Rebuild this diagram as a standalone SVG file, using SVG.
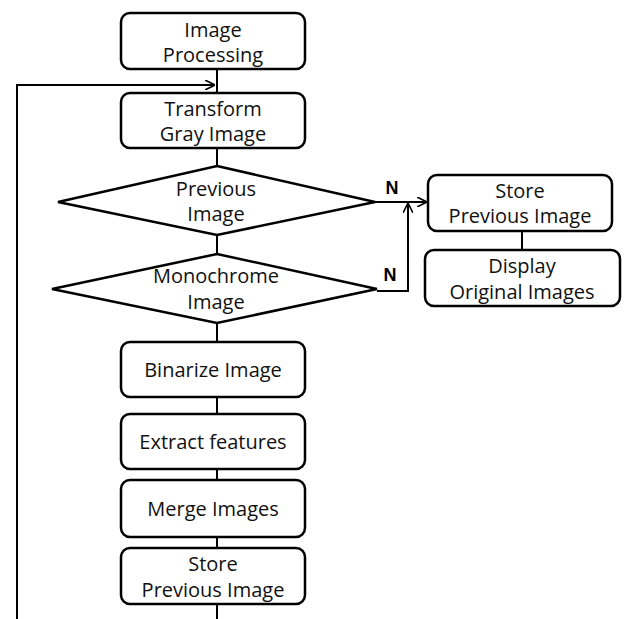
<svg xmlns="http://www.w3.org/2000/svg" width="624" height="619" viewBox="0 0 624 619">
<defs>
<style>
.box{fill:#fff;stroke:#000;stroke-width:2.5}
.ln{fill:none;stroke:#000;stroke-width:2}
.t{font-family:"Open Sans","Noto Sans",sans-serif;font-size:20px;fill:#111;text-anchor:middle}
.n{font-family:"Liberation Sans",Arial,sans-serif;font-size:18px;font-weight:bold;fill:#000;text-anchor:middle}
</style>
<marker id="ah" viewBox="0 0 10 10" refX="10" refY="5" markerWidth="10" markerHeight="10" markerUnits="userSpaceOnUse" orient="auto">
<path d="M0,0 L10,5 L0,10" fill="none" stroke="#000" stroke-width="1.6"/>
</marker>
</defs>
<rect width="624" height="619" fill="#fff"/>
<g id="connectors">
<line class="ln" x1="217" y1="69" x2="217" y2="93"/>
<polyline class="ln" points="17,619 17,85 215,85" marker-end="url(#ah)"/>
<line class="ln" x1="217" y1="148" x2="217" y2="166"/>
<line class="ln" x1="217" y1="235" x2="217" y2="254"/>
<line class="ln" x1="217" y1="323" x2="217" y2="342"/>
<line class="ln" x1="217" y1="397" x2="217" y2="414"/>
<line class="ln" x1="217" y1="469" x2="217" y2="480"/>
<line class="ln" x1="217" y1="537" x2="217" y2="548"/>
<line class="ln" x1="217" y1="604" x2="217" y2="619"/>
<line class="ln" x1="375" y1="202" x2="427" y2="202" marker-end="url(#ah)"/>
<polyline class="ln" points="377,291 408,291 408,203" marker-end="url(#ah)"/>
<line class="ln" x1="522" y1="231" x2="522" y2="250"/>
<text class="n" x="392" y="194">N</text>
<text class="n" x="390" y="281">N</text>
</g>
<g id="n1"><rect class="box" x="121" y="13" width="184" height="56" rx="9"/><text class="t" x="213" y="37">Image</text><text class="t" x="213" y="62">Processing</text></g>
<g id="n2"><rect class="box" x="121" y="93" width="184" height="55" rx="9"/><text class="t" x="213" y="116">Transform</text><text class="t" x="213" y="141">Gray Image</text></g>
<g id="d1"><polygon class="box" points="217,166 375,202 217,235 58,202"/><text class="t" x="216" y="196">Previous</text><text class="t" x="216" y="221">Image</text></g>
<g id="d2"><polygon class="box" points="217,254 377,289 217,323 52,289"/><text class="t" x="216" y="283">Monochrome</text><text class="t" x="216" y="309">Image</text></g>
<g id="s1"><rect class="box" x="428" y="175" width="184" height="56" rx="9"/><text class="t" x="520" y="198">Store</text><text class="t" x="520" y="223">Previous Image</text></g>
<g id="s2"><rect class="box" x="425" y="250" width="195" height="56" rx="9"/><text class="t" x="522" y="273">Display</text><text class="t" x="522" y="299">Original Images</text></g>
<g id="n3"><rect class="box" x="121" y="342" width="184" height="55" rx="9"/><text class="t" x="213" y="377">Binarize Image</text></g>
<g id="n4"><rect class="box" x="121" y="414" width="184" height="55" rx="9"/><text class="t" x="213" y="449">Extract features</text></g>
<g id="n5"><rect class="box" x="121" y="480" width="184" height="57" rx="9"/><text class="t" x="213" y="516">Merge Images</text></g>
<g id="n6"><rect class="box" x="121" y="548" width="184" height="56" rx="9"/><text class="t" x="213" y="571">Store</text><text class="t" x="213" y="597">Previous Image</text></g>
</svg>
